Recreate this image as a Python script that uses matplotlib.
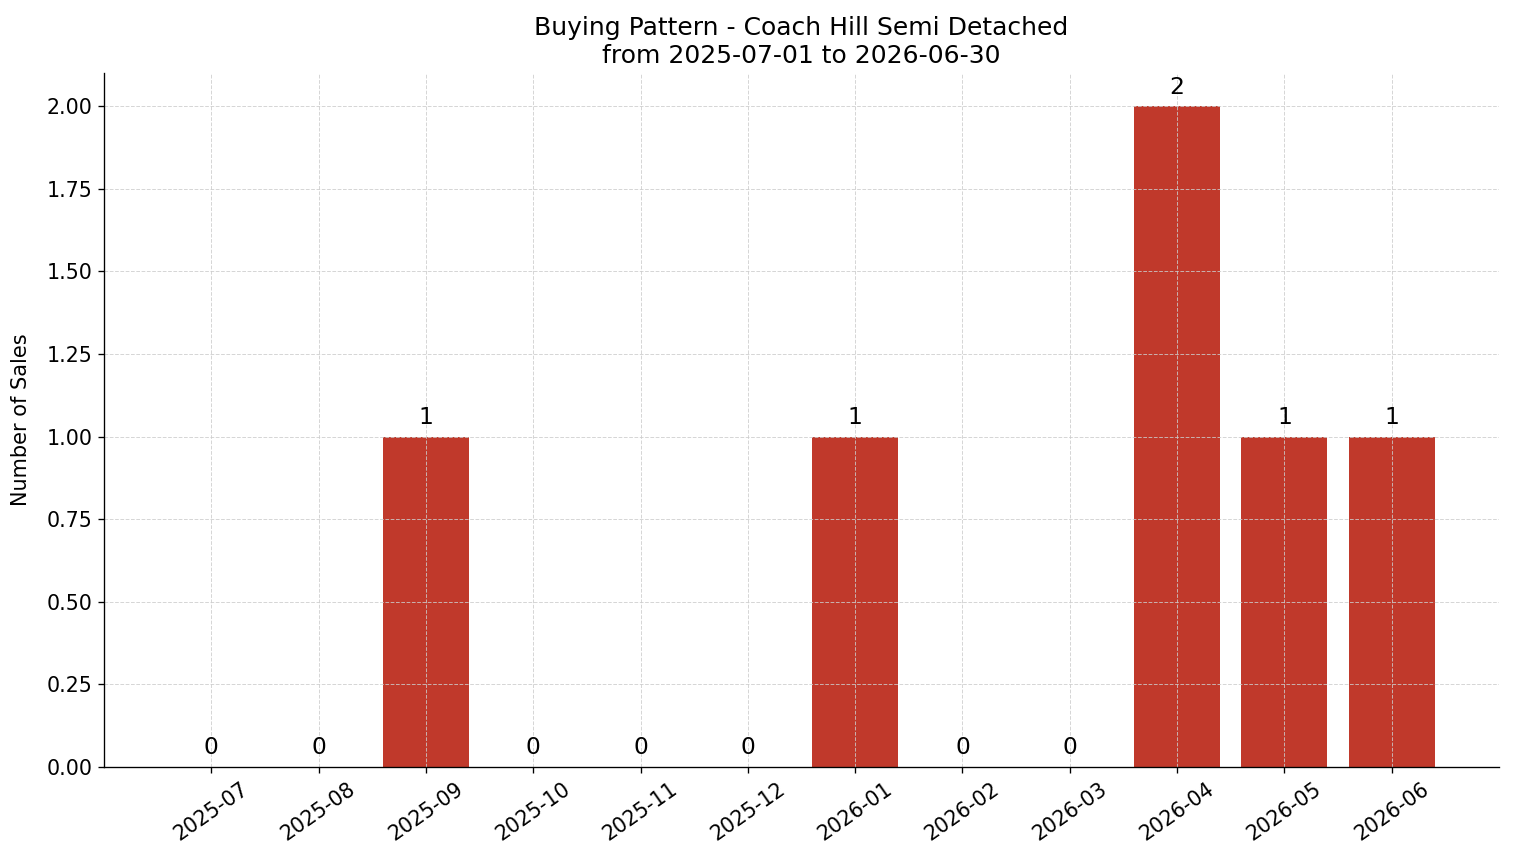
import matplotlib
matplotlib.use("Agg")
import matplotlib.pyplot as plt

months = ["2025-07", "2025-08", "2025-09", "2025-10", "2025-11", "2025-12",
          "2026-01", "2026-02", "2026-03", "2026-04", "2026-05", "2026-06"]
sales = [0, 0, 1, 0, 0, 0, 1, 0, 0, 2, 1, 1]

fig = plt.figure(figsize=(1514 / 120, 863 / 120), dpi=120)
ax = fig.add_axes([104 / 1514, 1 - 767 / 863, (1499 - 104) / 1514, (767 - 73) / 863])

x = list(range(len(months)))
bars = ax.bar(x, sales, width=0.8, color="#c0392b")
for xi, v in zip(x, sales):
    ax.annotate(f"{v}", (xi, v), xytext=(0, 4.5), textcoords="offset points",
                ha="center", va="bottom", fontsize=14)

ax.set_xticks(x)
ax.set_xticklabels(months, rotation=35, ha="center", fontsize=12.3)
ax.tick_params(axis="y", labelsize=12.3)
ax.set_xlim(-1, 12)
ax.set_ylim(0, 2.1)
ax.set_ylabel("Number of Sales", fontsize=12.5, labelpad=9)
ax.set_title("Buying Pattern - Coach Hill Semi Detached\nfrom 2025-07-01 to 2026-06-30", fontsize=15)
ax.grid(True, linestyle="--", color="#cccccc", alpha=0.8, linewidth=0.6)
ax.spines["top"].set_visible(False)
ax.spines["right"].set_visible(False)

fig.savefig("out.png", dpi=120)
